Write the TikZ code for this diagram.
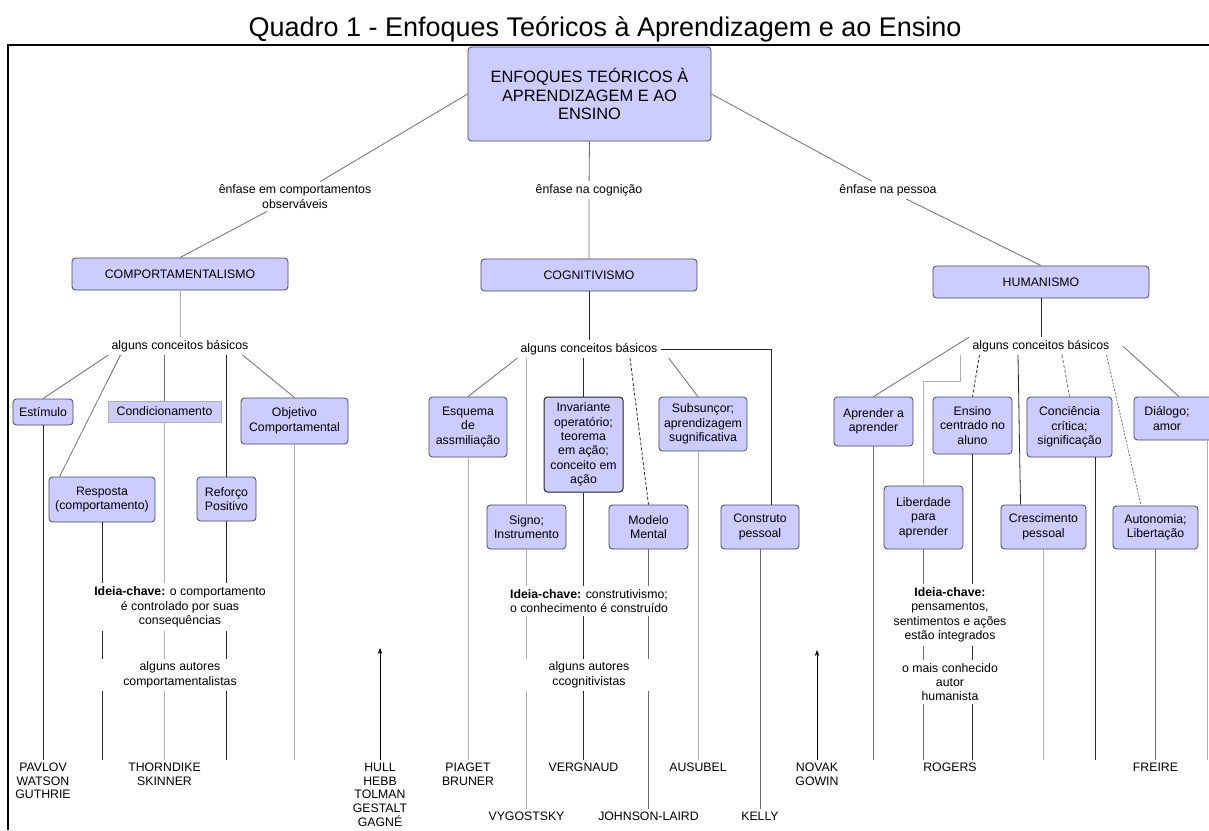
\documentclass[tikz,border=0pt]{standalone}
\usepackage{fontspec}
\setmainfont{Liberation Sans}
\usetikzlibrary{arrows.meta}
\definecolor{boxfill}{RGB}{204,204,255}
\definecolor{boxdraw}{RGB}{70,70,100}
\definecolor{cdark}{RGB}{40,40,40}
\definecolor{cmid}{RGB}{110,110,110}
\definecolor{clight}{RGB}{175,175,175}
\newcommand\bodyfont{\fontsize{12.3}{14.4}\selectfont}
\newcommand\authfont{\fontsize{12.3}{13.75}\selectfont}
\newcommand\topfont{\fontsize{16.4}{18.5}\selectfont}
\newcommand\titlefont{\fontsize{27}{30}\selectfont}
\begin{document}
\begin{tikzpicture}[x=1pt,y=-1pt,
  cbox/.style={draw=boxdraw, fill=boxfill, rounded corners=3.5pt, line width=0.8pt, align=center, inner sep=1pt, font=\bodyfont},
  lbl/.style={align=center, inner sep=3pt, font=\bodyfont},
  wlbl/.style={lbl, fill=white, inner sep=3.5pt},
  auth/.style={align=center, inner sep=3pt, font=\authfont, anchor=north},
  ln/.style={line width=0.8pt, draw=cmid},
  dk/.style={line width=0.8pt, draw=cdark},
  lt/.style={line width=0.8pt, draw=clight},
  dsh/.style={dash pattern=on 3pt off 2pt},
  arr/.style={line width=0.8pt, draw=black, -{Stealth[length=6pt,width=4.5pt]}}
]
\useasboundingbox (0,0) rectangle (1209,830);
\fill[white] (0,0) rectangle (1209,830);
\draw[line width=2pt] (8,830) -- (8,45) -- (1209,45);

\node[font=\titlefont, anchor=base, inner sep=0pt] (title) at (605,36) {Quadro 1 - Enfoques Teóricos à Aprendizagem e ao Ensino};

% main boxes
\node[cbox, font=\topfont, minimum width=243pt, minimum height=94pt] (top) at (589.5,94) {ENFOQUES TEÓRICOS À\\APRENDIZAGEM E AO\\ENSINO};
\node[cbox, minimum width=216pt, minimum height=32pt] (comp) at (180,274) {COMPORTAMENTALISMO};
\node[cbox, minimum width=216pt, minimum height=32pt] (cog) at (589,275) {COGNITIVISMO};
\node[cbox, minimum width=216pt, minimum height=32pt] (hum) at (1041,282) {HUMANISMO};

% labels
\node[lbl] (L1) at (295,196.5) {ênfase em comportamentos\\observáveis};
\node[lbl] (L2) at (589,190) {ênfase na cognição};
\node[lbl] (L3) at (888,190) {ênfase na pessoa};
\node[lbl] (A1) at (180,346) {alguns conceitos básicos};
\node[lbl] (A2) at (589,349) {alguns conceitos básicos};
\node[lbl] (A3) at (1041,346) {alguns conceitos básicos};

% left concept boxes
\node[cbox, minimum width=60pt, minimum height=26pt] (est) at (43,412) {Estímulo};
\node[cbox, draw=clight, rounded corners=0pt, minimum width=113pt, minimum height=21pt] (cond) at (164.5,411.5) {Condicionamento};
\node[cbox, minimum width=106pt, minimum height=45pt] (resp) at (102,499.5) {Resposta\\(comportamento)};
\node[cbox, minimum width=59pt, minimum height=44pt] (ref) at (226.5,499) {Reforço\\Positivo};
\node[cbox, minimum width=107pt, minimum height=46pt] (obj) at (294.5,421) {Objetivo\\Comportamental};

% middle concept boxes
\node[cbox, minimum width=78pt, minimum height=60pt] (esq) at (468,427) {Esquema\\de\\assmiliação};
\node[cbox, draw=black!85, line width=1pt, minimum width=79pt, minimum height=95pt] (inv) at (583.5,444.5) {Invariante\\operatório;\\teorema\\em ação;\\conceito em\\ação};
\node[cbox, minimum width=88pt, minimum height=54pt] (subs) at (703,424) {Subsunçor;\\aprendizagem\\sugnificativa};
\node[cbox, minimum width=79pt, minimum height=44pt] (signo) at (526.5,527) {Signo;\\Instrumento};
\node[cbox, minimum width=79pt, minimum height=44pt] (modelo) at (648.5,527) {Modelo\\Mental};
\node[cbox, minimum width=78pt, minimum height=44pt] (constr) at (760,527) {Construto\\pessoal};

% right concept boxes
\node[cbox, minimum width=79pt, minimum height=49pt] (apr) at (873.5,421.5) {Aprender a\\aprender};
\node[cbox, minimum width=79pt, minimum height=57pt] (ens) at (972.5,425.5) {Ensino\\centrado no\\aluno};
\node[cbox, minimum width=85pt, minimum height=60pt] (conc) at (1069.5,427) {Conciência\\crítica;\\significação};
\node[cbox, minimum width=90pt, minimum height=43pt] (dial) at (1179,418.5) {\hspace*{-24pt}Diálogo;\\\hspace*{-24pt}amor};
\node[cbox, minimum width=79pt, minimum height=63pt] (lib) at (923.5,517.5) {Liberdade\\para\\aprender};
\node[cbox, minimum width=85pt, minimum height=44pt] (cresc) at (1043.5,527) {Crescimento\\pessoal};
\node[cbox, minimum width=85pt, minimum height=43pt] (auto) at (1155.5,527.5) {Autonomia;\\Libertação};

% authors
\node[auth] (pav) at (43,759.6) {PAVLOV\\WATSON\\GUTHRIE};
\node[auth] (thor) at (164.5,759.6) {THORNDIKE\\SKINNER};
\node[auth] (hull) at (380,759.6) {HULL\\HEBB\\TOLMAN\\GESTALT\\GAGNÉ};
\node[auth] (piaget) at (468,759.6) {PIAGET\\BRUNER};
\node[auth] (verg) at (583.5,759.6) {VERGNAUD};
\node[auth] (aus) at (698,759.6) {AUSUBEL};
\node[auth] (novak) at (817,759.6) {NOVAK\\GOWIN};
\node[auth] (rog) at (950,759.6) {ROGERS};
\node[auth] (freire) at (1155.5,759.6) {FREIRE};
\node[auth] (vyg) at (526.5,808.6) {VYGOSTSKY};
\node[auth] (john) at (648.5,808.6) {JOHNSON-LAIRD};
\node[auth] (kelly) at (760,808.6) {KELLY};

% top connectors
\draw[ln] (top.west) -- (L1);
\draw[ln] (L1) -- (comp.north);
\draw[ln] (top.south) -- (L2) -- (cog.north);
\draw[ln] (top.east) -- (L3) -- (hum.north);

% left group
\draw[lt] (comp) -- (A1);
\draw[ln] (A1.south west) -- (est.north);
\draw[ln] ([xshift=12pt]A1.south west) -- ([xshift=11pt]resp.north west);
\draw[ln] (cond.north |- A1.south) -- (cond.north);
\draw[dk] (ref.north |- A1.south) -- (ref.north);
\draw[ln] ([xshift=-9pt]A1.south east) -- (obj.north);
\draw[dk] (est.south) -- (pav.north);
\draw[dk] (resp.south) -- (resp.south |- pav.north);
\draw[lt] (cond.south) -- (thor.north);
\draw[dk] (ref.south) -- (ref.south |- pav.north);
\draw[lt] (obj.south) -- (obj.south |- pav.north);

% middle group
\draw[dk] (cog) -- (A2);
\draw[ln] (A2.south west) -- (esq.north);
\draw[lt] (signo.north |- A2.south) -- (signo.north);
\draw[dk] (inv.north |- A2.south) -- (inv.north);
\draw[dk, dsh] ([xshift=41pt]A2.south) -- (modelo.north);
\draw[ln] ([xshift=8pt]A2.south east) -- ([xshift=-5pt]subs.north);
\draw[dk] (A2.east) -| ([xshift=11pt]constr.north);
\draw[lt] (esq.south) -- (piaget.north);
\draw[lt] (signo.south) -- (vyg.north);
\draw[dk] (inv.south) -- (verg.north);
\draw[ln] (modelo.south) -- (john.north);
\draw[lt] ([xshift=-5pt]subs.south) -- (aus.north);
\draw[ln] (constr.south) -- (kelly.north);

% right group
\draw[dk] (hum) -- (A3);
\draw[ln] (A3.north west) -- (apr.north);
\draw[lt] ([xshift=-9pt]A3.south west) -- ++(0,26) -| (lib.north);
\draw[dk, dsh] ([xshift=10pt]A3.south west) -- (ens.north);
\draw[dk] ([xshift=-23pt]A3.south) -- ([xshift=-23pt]cresc.north);
\draw[ln, dsh] ([xshift=21pt]A3.south) -- (conc.north);
\draw[ln, dash pattern=on 2pt off 1.5pt] ([xshift=-6pt]A3.south east) -- ([xshift=-14.5pt]auto.north);
\draw[ln] ([xshift=10pt]A3.east) -- (dial.north);
\coordinate (concdn) at ([xshift=26pt]conc.south);
\coordinate (dialdn) at ([xshift=28pt]dial.south);
\draw[ln] (apr.south) -- (apr.south |- rog.north);
\draw[ln] (lib.south) -- (lib.south |- rog.north);
\draw[dk] (ens.south) -- (ens.south |- rog.north);
\draw[lt] (cresc.south) -- (cresc.south |- rog.north);
\draw[dk] (concdn) -- (concdn |- rog.north);
\draw[ln] (auto.south) -- (freire.north);
\draw[lt] (dialdn) -- (dialdn |- rog.north);

% arrows
\coordinate (hulltip) at (380,648);
\coordinate (novaktip) at (817,650);
\draw[arr] (hull.north) -- (hulltip);
\draw[arr] (novak.north) -- (novaktip);

% key idea labels (on top of lines)
\node[wlbl] (I1) at (180,607) {\textbf{Ideia-chave:} o comportamento\\é controlado por suas\\consequências};
\node[wlbl, minimum width=178pt] (U1) at (180,675) {alguns autores\\comportamentalistas};
\node[wlbl] (I2) at (589,601) {\textbf{Ideia-chave:} construtivismo;\\o conhecimento é construído};
\node[wlbl, minimum width=166pt] (U2) at (589,675) {alguns autores\\ccognitivistas};
\node[wlbl] (I3) at (950,615) {\textbf{Ideia-chave:}\\pensamentos,\\sentimentos e ações\\estão integrados};
\node[wlbl] (U3) at (950,682) {o mais conhecido\\autor\\humanista};
\end{tikzpicture}
\end{document}
